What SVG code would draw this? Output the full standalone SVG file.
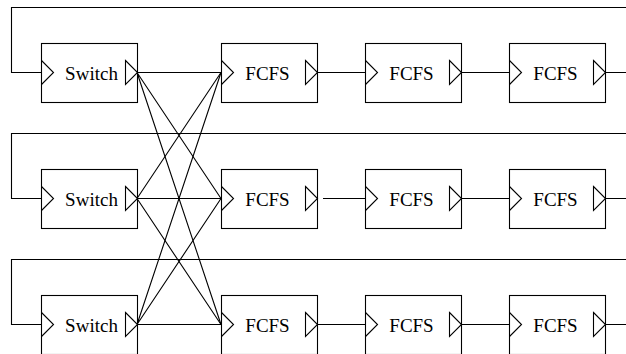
<svg xmlns="http://www.w3.org/2000/svg" width="626" height="354" viewBox="0 0 626 354">
  <style>
    .box { fill: #fff; stroke: #000; stroke-width: 1.1; }
    .port { fill: none; stroke: #000; stroke-width: 1.1; stroke-linejoin: miter; }
    .wire { fill: none; stroke: #000; stroke-width: 1.1; }
    .lbl { font-family: "Times New Roman", "Liberation Serif", Times, serif; font-size: 19px; fill: #000; text-anchor: middle; }
  </style>
  <defs>
    <!-- input port (left edge) and output port (right edge), relative to box origin at row centre -->
    <path id="inPort" class="port" d="M0,-12 L12,0 L0,12"/>
    <path id="outPort" class="port" d="M-12,-12 L0,0 L-12,12 Z"/>
  </defs>
  <rect width="626" height="354" fill="#fff"/>

  <!-- connectors -->
  <g id="connectors">
    <!-- feedback loops into each switch -->
    <path class="wire" d="M626,7.5 H11.5 V72.5 H41"/>
    <path class="wire" d="M626,133.5 H11.5 V198.5 H41"/>
    <path class="wire" d="M626,259.5 H11.5 V324.5 H41"/>
    <!-- switch outputs fanned to every first-stage FCFS -->
    <path class="wire" d="M137,72.5 L221,72.5 M137,72.5 L221,198.5 M137,72.5 L221,324.5"/>
    <path class="wire" d="M137,198.5 L221,72.5 M137,198.5 L221,198.5 M137,198.5 L221,324.5"/>
    <path class="wire" d="M137,324.5 L221,72.5 M137,324.5 L221,198.5 M137,324.5 L221,324.5"/>
    <!-- FCFS chains -->
    <path class="wire" d="M317,72.5 H365 M461,72.5 H509 M605,72.5 H626"/>
    <path class="wire" d="M323,198.5 H365 M461,198.5 H509 M605,198.5 H626"/>
    <path class="wire" d="M317,324.5 H365 M461,324.5 H509 M605,324.5 H626"/>
  </g>

  <!-- row 1 -->
  <g id="switch1" transform="translate(41.5,72.5)">
    <rect class="box" x="0" y="-29" width="96" height="59"/>
    <use href="#inPort"/><use href="#outPort" x="96"/>
    <text class="lbl" x="50" y="7">Switch</text>
  </g>
  <g id="fcfs1a" transform="translate(221.5,72.5)">
    <rect class="box" x="0" y="-29" width="96" height="59"/>
    <use href="#inPort"/><use href="#outPort" x="96"/>
    <text class="lbl" x="46" y="7">FCFS</text>
  </g>
  <g id="fcfs1b" transform="translate(365.5,72.5)">
    <rect class="box" x="0" y="-29" width="96" height="59"/>
    <use href="#inPort"/><use href="#outPort" x="96"/>
    <text class="lbl" x="46" y="7">FCFS</text>
  </g>
  <g id="fcfs1c" transform="translate(509.5,72.5)">
    <rect class="box" x="0" y="-29" width="96" height="59"/>
    <use href="#inPort"/><use href="#outPort" x="96"/>
    <text class="lbl" x="46" y="7">FCFS</text>
  </g>

  <!-- row 2 -->
  <g id="switch2" transform="translate(41.5,198.5)">
    <rect class="box" x="0" y="-29" width="96" height="59"/>
    <use href="#inPort"/><use href="#outPort" x="96"/>
    <text class="lbl" x="50" y="7">Switch</text>
  </g>
  <g id="fcfs2a" transform="translate(221.5,198.5)">
    <rect class="box" x="0" y="-29" width="96" height="59"/>
    <use href="#inPort"/><use href="#outPort" x="96"/>
    <text class="lbl" x="46" y="7">FCFS</text>
  </g>
  <g id="fcfs2b" transform="translate(365.5,198.5)">
    <rect class="box" x="0" y="-29" width="96" height="59"/>
    <use href="#inPort"/><use href="#outPort" x="96"/>
    <text class="lbl" x="46" y="7">FCFS</text>
  </g>
  <g id="fcfs2c" transform="translate(509.5,198.5)">
    <rect class="box" x="0" y="-29" width="96" height="59"/>
    <use href="#inPort"/><use href="#outPort" x="96"/>
    <text class="lbl" x="46" y="7">FCFS</text>
  </g>

  <!-- row 3 -->
  <g id="switch3" transform="translate(41.5,324.5)">
    <rect class="box" x="0" y="-29" width="96" height="59"/>
    <use href="#inPort"/><use href="#outPort" x="96"/>
    <text class="lbl" x="50" y="7">Switch</text>
  </g>
  <g id="fcfs3a" transform="translate(221.5,324.5)">
    <rect class="box" x="0" y="-29" width="96" height="59"/>
    <use href="#inPort"/><use href="#outPort" x="96"/>
    <text class="lbl" x="46" y="7">FCFS</text>
  </g>
  <g id="fcfs3b" transform="translate(365.5,324.5)">
    <rect class="box" x="0" y="-29" width="96" height="59"/>
    <use href="#inPort"/><use href="#outPort" x="96"/>
    <text class="lbl" x="46" y="7">FCFS</text>
  </g>
  <g id="fcfs3c" transform="translate(509.5,324.5)">
    <rect class="box" x="0" y="-29" width="96" height="59"/>
    <use href="#inPort"/><use href="#outPort" x="96"/>
    <text class="lbl" x="46" y="7">FCFS</text>
  </g>
</svg>
